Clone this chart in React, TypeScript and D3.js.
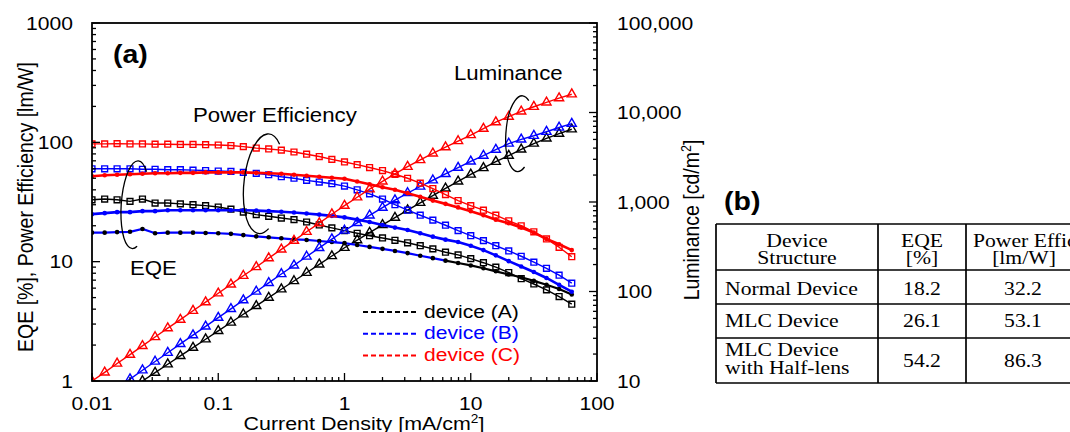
import * as d3 from 'd3';
import React, { useEffect, useRef } from 'react';

// current density [mA/cm2] at which every curve was read
const currentDensity = [
  0.01, 0.0126, 0.0158, 0.02, 0.0251, 0.0316, 0.0398, 0.0501, 0.0631, 0.0794,
  0.1, 0.126, 0.158, 0.2, 0.251, 0.316, 0.398, 0.501, 0.631, 0.794,
  1, 1.26, 1.58, 2, 2.51, 3.16, 3.98, 5.01, 6.31, 7.94,
  10, 12.6, 15.8, 20, 25.1, 31.6, 39.8, 50.1, 63.1,
];

// EQE [%]  (filled circles, left axis)
const eqeA = [
  17.5, 17.5, 17.7, 17.8, 18.8, 17.3, 17.5, 17.5, 17.5, 17.4,
  17.3, 17.1, 16.7, 16.3, 16, 15.7, 15.4, 15.2, 14.9, 14.6,
  14.3, 13.8, 13.3, 12.8, 12.3, 11.8, 11.2, 10.7, 10.2, 9.75,
  9.3, 8.8, 8.3, 7.8, 7.4, 6.9, 6.4, 5.9, 5.3,
];
const eqeB = [
  25, 25.5, 26, 26, 26.5, 26.5, 27, 27, 27, 27,
  27, 27, 27, 26.8, 26.5, 26.2, 25.8, 25.3, 24.8, 24.2,
  23.5, 22.5, 21.5, 20.3, 19.3, 18.4, 17.3, 16.2, 15.3, 14.6,
  13.6, 12.5, 11.3, 10.1, 9.1, 8.2, 7.3, 6.4, 5.6,
];
const eqeC = [
  52, 53, 53.5, 54, 54.5, 55, 55, 55.5, 55.5, 56,
  56, 56, 56, 55.5, 55, 54.5, 53.5, 52.5, 51.5, 50.5,
  49.5, 47, 44.5, 42, 40, 37.5, 35, 32.5, 30.5, 28.5,
  26.5, 24.5, 22.5, 21, 19.3, 17.5, 15.5, 14, 12.5,
];

// power efficiency [lm/W]  (open squares, left axis)
const peA = [
  33, 33.5, 33, 32, 33.5, 31, 31, 30.5, 30, 29.5,
  28.7, 27.5, 26, 24.8, 24, 23.2, 22.5, 21.5, 20.3, 19.2,
  18.2, 17.3, 16.5, 15.8, 15.1, 14.4, 13.6, 12.8, 12, 11.4,
  10.6, 9.8, 9, 8.1, 7.2, 6.5, 5.8, 5.1, 4.4,
];
const peB = [
  60, 60, 60, 60, 59.5, 59.5, 59, 59, 58.5, 58,
  57.5, 57, 56, 55, 53.5, 51.5, 50, 48, 46.5, 45,
  43, 40, 37, 33.5, 30, 27, 24.5, 22.3, 20.2, 18.2,
  16.5, 15, 13.6, 12.3, 11.1, 9.9, 8.8, 7.7, 6.6,
];
const peC = [
  97, 97, 97.5, 97, 97, 96.5, 96.5, 96, 96, 95.5,
  95, 94, 92, 89.5, 88, 86, 83, 79.5, 76, 72,
  68.5, 65, 61.5, 58, 54, 50, 45.5, 41, 36.5, 32.5,
  29.5, 27, 24.5, 22, 20, 17.8, 15.5, 13.2, 11,
];

// luminance [cd/m2]  (open triangles, right axis)
const lumA = [
  4.25, 5.3, 6.5, 8.1, 10, 12.4, 15.4, 19.1, 23.6, 29.3,
  36.3, 45, 55.7, 69, 85.5, 106, 131, 162, 201, 249,
  308, 375, 455, 555, 670, 813, 980, 1180, 1420, 1700,
  2030, 2400, 2820, 3300, 3870, 4500, 5150, 5800, 6500,
];
const lumB = [
  5.3, 6.6, 8.3, 10.5, 13.2, 16.5, 20.7, 26, 32.5, 40.7,
  51, 64, 80, 100, 125, 157, 196, 246, 307, 385,
  480, 585, 710, 865, 1050, 1260, 1490, 1750, 2060, 2420,
  2840, 3300, 3850, 4500, 5000, 5500, 6100, 6800, 7500,
];
const lumC = [
  10, 12.5, 15.7, 19.7, 24.7, 31, 39, 48.5, 61, 76,
  95.5, 120, 150, 188, 236, 296, 370, 465, 580, 730,
  910, 1130, 1390, 1700, 2060, 2480, 2950, 3500, 4100, 4800,
  5600, 6600, 7800, 9000, 10300, 11600, 13000, 14500, 16000,
];

const deviceNames = ['device (A)', 'device (B)', 'device (C)'];
const deviceColors = ['#000000', '#0000ff', '#ff0000'];

const xTickLabels = ['0.01', '0.1', '1', '10', '100'];
const leftTickLabels = ['1', '10', '100', '1000'];
const rightTickLabels = ['10', '100', '1,000', '10,000', '100,000'];

// table (b)
const tableHead = [['Device', 'Structure'], ['EQE', '[%]'], ['Power Efficiency', '[lm/W]']];
const tableStructure = [['Normal Device'], ['MLC Device'], ['MLC Device', 'with Half-lens']];
const tableEqe = ['18.2', '26.1', '54.2'];
const tablePe = ['32.2', '53.1', '86.3'];

const W = 1070;
const H = 432;
const SX = 1.14; // the figure is a little stretched sideways
const SANS = '"Liberation Sans", Arial, sans-serif';
const SERIF = '"Liberation Serif", "Times New Roman", serif';

export default function App() {
  const svgRef = useRef<SVGSVGElement>(null);

  useEffect(() => {
    const svg = d3.select(svgRef.current);
    svg.selectAll('*').remove();

    const plot = { left: 92, right: 597, top: 23, bottom: 381 };

    const x = d3.scaleLog().domain([0.01, 100]).range([plot.left, plot.right]);
    const yL = d3.scaleLog().domain([1, 1000]).range([plot.bottom, plot.top]);
    const yR = d3.scaleLog().domain([10, 100000]).range([plot.bottom, plot.top]);

    const isMajor = (v: number) => Math.abs(Math.log10(v) - Math.round(Math.log10(v))) < 1e-6;

    const text = (g: any, tx: number, ty: number, str: string, size: number, anchor = 'start', extra = '') =>
      g.append('text')
        .attr('transform', `translate(${tx},${ty}) scale(${SX},1)${extra}`)
        .attr('text-anchor', anchor)
        .attr('font-family', SANS)
        .attr('font-size', size)
        .attr('fill', '#000')
        .text(str);

    // clip for the curves
    svg.append('defs').append('clipPath').attr('id', 'plotClip')
      .append('rect')
      .attr('x', plot.left).attr('y', plot.top)
      .attr('width', plot.right - plot.left).attr('height', plot.bottom - plot.top);

    const data = svg.append('g').attr('clip-path', 'url(#plotClip)');

    const series = [
      { eqe: eqeA, pe: peA, lum: lumA },
      { eqe: eqeB, pe: peB, lum: lumB },
      { eqe: eqeC, pe: peC, lum: lumC },
    ];

    const tri = d3.symbol().type(d3.symbolTriangle).size(36);
    const sq = d3.symbol().type(d3.symbolSquare).size(34);

    series.forEach((s, i) => {
      const color = deviceColors[i];

      // luminance
      const lumLine = d3.line<number>().x((_, k) => x(currentDensity[k])).y(d => yR(d));
      data.append('path').datum(s.lum)
        .attr('fill', 'none').attr('stroke', color).attr('stroke-width', 1.4)
        .attr('d', lumLine);
      data.selectAll(null).data(s.lum).enter().append('path')
        .attr('d', tri)
        .attr('transform', (d, k) => `translate(${x(currentDensity[k])},${yR(d)})`)
        .attr('fill', 'none').attr('stroke', color).attr('stroke-width', 1.4);

      // power efficiency
      const leftLine = d3.line<number>().x((_, k) => x(currentDensity[k])).y(d => yL(d));
      data.append('path').datum(s.pe)
        .attr('fill', 'none').attr('stroke', color).attr('stroke-width', 1.4)
        .attr('d', leftLine);
      data.selectAll(null).data(s.pe).enter().append('path')
        .attr('d', sq)
        .attr('transform', (d, k) => `translate(${x(currentDensity[k])},${yL(d)})`)
        .attr('fill', 'none').attr('stroke', color).attr('stroke-width', 1.4);

      // EQE (device A's trace runs on a blue line at low current)
      if (i === 0) {
        const splitAt = currentDensity.indexOf(6.31);
        data.append('path').datum(s.eqe.slice(0, splitAt + 1))
          .attr('fill', 'none').attr('stroke', '#0000ff').attr('stroke-width', 2.2)
          .attr('d', leftLine);
        const tail = d3.line<number>().x((_, k) => x(currentDensity[k + splitAt])).y(d => yL(d));
        data.append('path').datum(s.eqe.slice(splitAt))
          .attr('fill', 'none').attr('stroke', color).attr('stroke-width', 2.2)
          .attr('d', tail);
      } else {
        data.append('path').datum(s.eqe)
          .attr('fill', 'none').attr('stroke', color).attr('stroke-width', 2.6)
          .attr('d', leftLine);
      }
      data.selectAll(null).data(s.eqe).enter().append('circle')
        .attr('cx', (_, k) => x(currentDensity[k]))
        .attr('cy', d => yL(d))
        .attr('r', 2.3)
        .attr('fill', color);
    });

    // frame
    svg.append('rect')
      .attr('x', plot.left).attr('y', plot.top)
      .attr('width', plot.right - plot.left).attr('height', plot.bottom - plot.top)
      .attr('fill', 'none').attr('stroke', '#000').attr('stroke-width', 1.8);

    // ticks, all pointing inward
    const ticks = svg.append('g').attr('stroke', '#000').attr('stroke-width', 1.3);
    x.ticks().forEach(v => {
      const len = isMajor(v) ? 8 : 4;
      ticks.append('line').attr('x1', x(v)).attr('x2', x(v))
        .attr('y1', plot.bottom).attr('y2', plot.bottom - len);
    });
    yL.ticks().forEach(v => {
      const len = isMajor(v) ? 8 : 4;
      ticks.append('line').attr('x1', plot.left).attr('x2', plot.left + len)
        .attr('y1', yL(v)).attr('y2', yL(v));
    });
    yR.ticks().forEach(v => {
      const len = isMajor(v) ? 8 : 4;
      ticks.append('line').attr('x1', plot.right).attr('x2', plot.right - len)
        .attr('y1', yR(v)).attr('y2', yR(v));
    });

    // tick labels
    x.ticks().filter(isMajor).forEach((v, k) => text(svg, x(v), 410, xTickLabels[k], 18.5, 'middle'));
    yL.ticks().filter(isMajor).forEach((v, k) => text(svg, 73, yL(v) + 6.5, leftTickLabels[k], 18.5, 'end'));
    yR.ticks().filter(isMajor).forEach((v, k) => text(svg, 617, yR(v) + 6.5, rightTickLabels[k], 18.5, 'start'));

    // axis titles
    const xt = text(svg, 364, 430, 'Current Density [mA/cm', 18.8, 'middle');
    xt.append('tspan').attr('font-size', 12).attr('dy', -7).text('2');
    xt.append('tspan').attr('dy', 7).text(']');

    text(svg, 33, 207, 'EQE [%],  Power Efficiency [lm/W]', 19.5, 'middle', ' rotate(-90)');

    const rt = text(svg, 699, 220, 'Luminance [cd/m', 19.5, 'middle', ' rotate(-90)');
    rt.append('tspan').attr('font-size', 12.5).attr('dy', -7).text('2');
    rt.append('tspan').attr('dy', 7).text(']');

    // panel labels and annotations
    text(svg, 113, 63, '(a)', 25, 'start').attr('font-weight', 'bold');
    text(svg, 193, 122, 'Power Efficiency', 19.5);
    text(svg, 130, 275, 'EQE', 19.5);
    text(svg, 454, 80, 'Luminance', 19.5);

    const ellipses = [
      { j: 0.23, v: yL(45), rx: 20, ry: 50, rot: 6, a0: -55, a1: 62 },
      { j: 0.022, v: yL(30), rx: 14, ry: 44, rot: 4, a0: -50, a1: 70 },
      { j: 24.5, v: yR(5800), rx: 14, ry: 38, rot: 4, a0: -62, a1: 60 },
    ];
    ellipses.forEach(e => {
      const cx = x(e.j);
      const cy = e.v;
      const r = Math.PI / 180;
      const c = Math.cos(e.rot * r);
      const s = Math.sin(e.rot * r);
      const pt = (a: number) => {
        const px = e.rx * Math.cos(a * r);
        const py = e.ry * Math.sin(a * r);
        return [cx + px * c - py * s, cy + px * s + py * c];
      };
      const p0 = pt(e.a0);
      const p1 = pt(e.a1);
      svg.append('path')
        .attr('d', `M${p0[0]},${p0[1]} A${e.rx},${e.ry} ${e.rot} 1 0 ${p1[0]},${p1[1]}`)
        .attr('fill', 'none').attr('stroke', '#000').attr('stroke-width', 1.3);
    });

    // legend
    deviceNames.forEach((name, i) => {
      const ly = 312 + i * 21.8;
      svg.append('line')
        .attr('x1', 363).attr('x2', 418).attr('y1', ly).attr('y2', ly)
        .attr('stroke', deviceColors[i]).attr('stroke-width', 2)
        .attr('stroke-dasharray', '5,3');
      text(svg, 424, ly + 5.5, name, 18.5).attr('fill', deviceColors[i]);
    });

    // table (b)
    text(svg, 724, 210, '(b)', 25, 'start').attr('font-weight', 'bold');
    const tbl = svg.append('g');
    const cols = [716, 878, 966, 1075];
    const rows = [224, 270, 304, 338, 383];
    rows.forEach(ry => tbl.append('line').attr('x1', cols[0]).attr('x2', cols[3])
      .attr('y1', ry).attr('y2', ry).attr('stroke', '#000').attr('stroke-width', 1.7));
    cols.slice(0, 3).forEach(cx => tbl.append('line').attr('x1', cx).attr('x2', cx)
      .attr('y1', rows[0]).attr('y2', rows[4]).attr('stroke', '#000').attr('stroke-width', 1.7));

    const serif = (tx: number, ty: number, str: string, anchor: string) =>
      text(tbl, tx, ty, str, 19, anchor).attr('font-family', SERIF);

    serif(797, 247, tableHead[0][0], 'middle');
    serif(797, 264, tableHead[0][1], 'middle');
    serif(922, 247, tableHead[1][0], 'middle');
    serif(922, 264, tableHead[1][1], 'middle');
    serif(973, 247, tableHead[2][0], 'start');
    serif(1024, 264, tableHead[2][1], 'middle');

    const baselines = [[295], [327], [356, 374]];
    const mids = [295, 327, 367];
    tableStructure.forEach((lines, k) => {
      lines.forEach((ln, m) => serif(725, baselines[k][m], ln, 'start'));
      serif(922, mids[k], tableEqe[k], 'middle');
      serif(1023, mids[k], tablePe[k], 'middle');
    });
  }, []);

  return (
    <svg
      ref={svgRef}
      width={W}
      height={H}
      style={{ position: 'absolute', left: 0, top: 0, display: 'block', background: '#fff' }}
    />
  );
}
